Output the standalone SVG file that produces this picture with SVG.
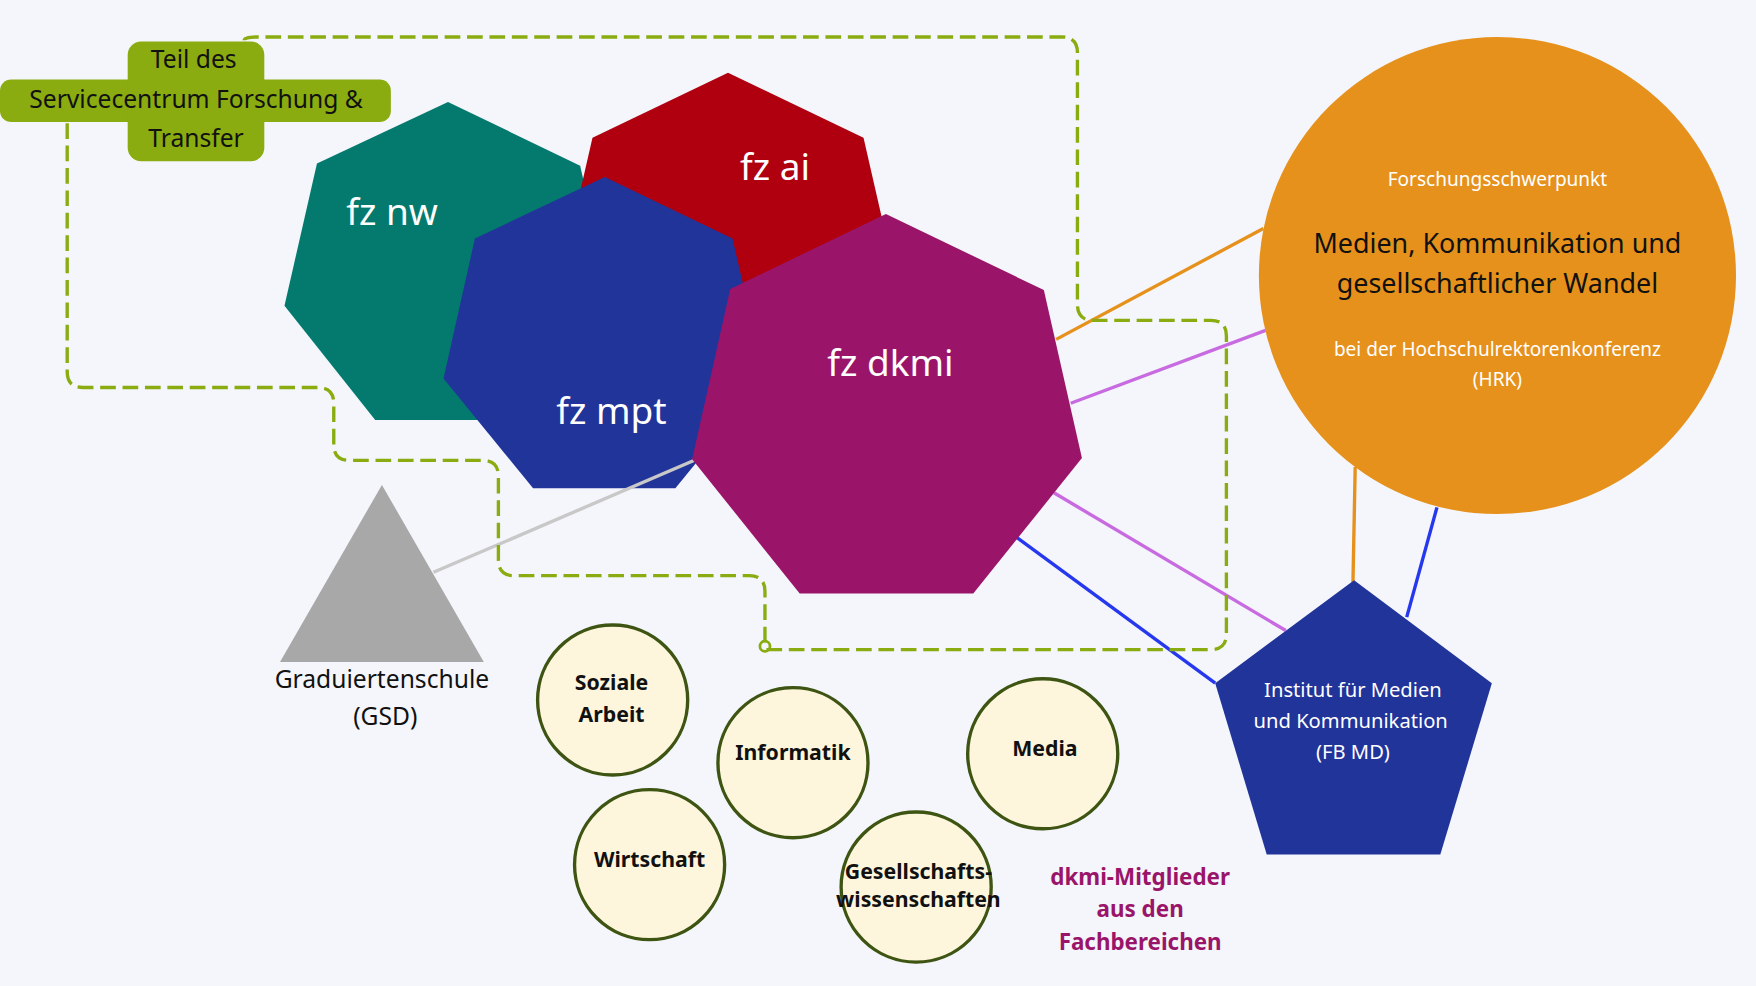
<svg xmlns="http://www.w3.org/2000/svg" width="1756" height="986" viewBox="0 0 1756 986">
<style>
text{font-family:"Noto Sans","DejaVu Sans",sans-serif;text-anchor:middle}
.big{fill:#fff;font-size:33px}
.dash{fill:none;stroke:#8aac10;stroke-width:3;stroke-dasharray:14 6}
.fb{fill:#fdf6dc;stroke:#3e5412;stroke-width:3}
.fbt{font-size:19px;font-weight:bold;fill:#111}
.ln{stroke-width:3;fill:none}
</style>
<rect width="1756" height="986" fill="#f4f6fb"/>
<g transform="scale(1.12)">
<g id="fz-nw"><polygon points="400,91 518,148 547,275 466,375 335,375 254,273 283,146" fill="#047a6e"/><text class="big" x="350" y="201">fz nw</text></g>
<g id="fz-ai"><polygon points="650,65 771,123 801,254 717,360 583,360 499,254 529,123" fill="#b0000f"/><text class="big" x="692" y="161">fz ai</text></g>
<g id="fz-mpt"><polygon points="540,158 654,213 683,338 603,436 476,436 396,338 424,213" fill="#21349a"/><text class="big" x="546" y="379">fz mpt</text></g>
<g id="connectors">
<line class="ln" x1="387" y1="511" x2="620" y2="411" stroke="#c8c8c8"/>
<line class="ln" x1="943" y1="303" x2="1128" y2="204" stroke="#e6911c"/>
<line class="ln" x1="956" y1="360" x2="1130" y2="295" stroke="#c86ae0"/>
<line class="ln" x1="941" y1="440" x2="1148" y2="563" stroke="#c86ae0"/>
<line class="ln" x1="908" y1="480" x2="1085" y2="610" stroke="#2638ee"/>
<line class="ln" x1="1210" y1="417" x2="1208" y2="520" stroke="#e6911c"/>
<line class="ln" x1="1283" y1="453" x2="1256" y2="551" stroke="#2638ee"/>
<path class="dash" d="M218,36 Q218,33 230,33 L948,33 Q962,33 962,47 L962,272 Q962,286 976,286 L1081,286 Q1095,286 1095,300 L1095,566 Q1095,580 1081,580 L683,580"/>
<path class="dash" d="M60,110 L60,332 Q60,346 74,346 L284,346 Q298,346 298,360 L298,397 Q298,411 312,411 L431,411 Q445,411 445,425 L445,500 Q445,514 459,514 L669,514 Q683,514 683,528 L683,577"/>
<circle cx="683" cy="577" r="4.5" fill="none" stroke="#8aac10" stroke-width="2.5"/>
</g>
<g id="fz-dkmi"><polygon points="791,191 932,259 966,409 869,530 714,530 618,410 652,258" fill="#9a1569"/><text class="big" x="795" y="336">fz dkmi</text></g>
<g id="gsd"><polygon points="341,433 432,591 250,591" fill="#a8a8a8"/><text x="341" y="614" font-size="22" fill="#111">Graduiertenschule</text><text x="344" y="647" font-size="22" fill="#111">(GSD)</text></g>
<g id="hrk"><circle cx="1337" cy="246" r="213" fill="#e6911c"/>
<text x="1337" y="166" font-size="17" fill="#fff">Forschungsschwerpunkt</text>
<text x="1337" y="226" font-size="24" fill="#111">Medien, Kommunikation und</text>
<text x="1337" y="262" font-size="24" fill="#111">gesellschaftlicher Wandel</text>
<text x="1337" y="318" font-size="17" fill="#fff">bei der Hochschulrektorenkonferenz</text>
<text x="1337" y="345" font-size="17" fill="#fff">(HRK)</text></g>
<g id="fbmd"><polygon points="1209,518 1332,610 1286,763 1131,763 1085,610" fill="#21349a"/>
<text x="1208" y="622" font-size="18" fill="#fff">Institut für Medien</text>
<text x="1206" y="650" font-size="18" fill="#fff">und Kommunikation</text>
<text x="1208" y="678" font-size="18" fill="#fff">(FB MD)</text></g>
<g id="label"><rect x="0" y="71" width="349" height="38" rx="10" fill="#8aac10"/><rect x="114" y="37" width="122" height="107" rx="12" fill="#8aac10"/>
<text x="173" y="61" font-size="22" fill="#111">Teil des</text>
<text x="175" y="96" font-size="22" fill="#111">Servicecentrum Forschung &amp;</text>
<text x="175" y="131" font-size="22" fill="#111">Transfer</text></g>
<g id="soziale"><circle class="fb" cx="547" cy="625" r="67"/><text class="fbt" x="546" y="616">Soziale</text><text class="fbt" x="546" y="645">Arbeit</text></g>
<g id="informatik"><circle class="fb" cx="708" cy="681" r="67"/><text class="fbt" x="708" y="679">Informatik</text></g>
<g id="media"><circle class="fb" cx="931" cy="673" r="67"/><text class="fbt" x="933" y="675">Media</text></g>
<g id="wirtschaft"><circle class="fb" cx="580" cy="772" r="67"/><text class="fbt" x="580" y="774">Wirtschaft</text></g>
<g id="gesellschaft"><circle class="fb" cx="818" cy="792" r="67"/><text class="fbt" x="820" y="785" font-size="17">Gesellschafts-</text><text class="fbt" x="820" y="810" font-size="17">wissenschaften</text></g>
<g id="note" fill="#9a1569" font-size="20" font-weight="bold"><text x="1018" y="790">dkmi-Mitglieder</text><text x="1018" y="819">aus den</text><text x="1018" y="848">Fachbereichen</text></g>
</g>
</svg>
